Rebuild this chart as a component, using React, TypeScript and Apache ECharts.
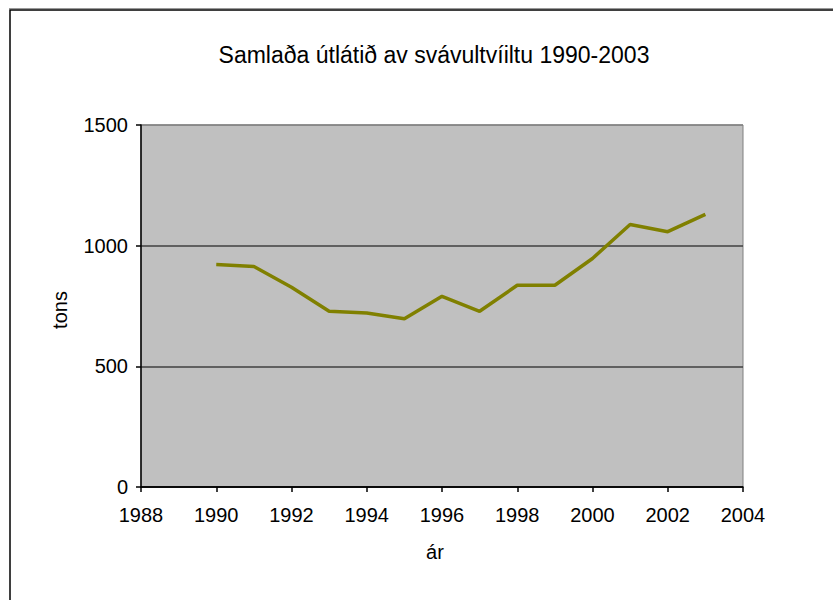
import React, { useEffect, useRef } from "react";
import * as echarts from "echarts";

const years = [1990, 1991, 1992, 1993, 1994, 1995, 1996, 1997, 1998, 1999, 2000, 2001, 2002, 2003];
const tons = [922, 914, 828, 728, 721, 697, 790, 728, 836, 836, 947, 1088, 1058, 1130];
const titleText = "Samlaða útlátið av svávultvíiltu 1990-2003";
const xName = "ár";
const yName = "tons";

const FONT = "'Liberation Sans', Arial, sans-serif";

export default function App() {
  const ref = useRef<HTMLDivElement>(null);
  useEffect(() => {
    if (!ref.current) return;
    const chart = echarts.init(ref.current, null, { renderer: "svg" });
    chart.setOption({
      animation: false,
      backgroundColor: "#ffffff",
      grid: {
        left: 141,
        top: 125,
        right: 90,
        bottom: 113,
        show: true,
        backgroundColor: "#C0C0C0",
        borderColor: "#808080",
        borderWidth: 1,
      },
      xAxis: {
        type: "value",
        min: 1988,
        max: 2004,
        interval: 2,
        axisLine: { show: true, onZero: false, lineStyle: { color: "#000000", width: 1.5 } },
        axisTick: { show: true, length: 5, lineStyle: { color: "#000000", width: 1.5 } },
        axisLabel: {
          color: "#000000",
          fontSize: 20,
          fontFamily: FONT,
          margin: 18,
          formatter: (v: number) => String(v),
        },
        splitLine: { show: false },
      },
      yAxis: {
        type: "value",
        min: 0,
        max: 1500,
        interval: 500,
        axisLine: { show: true, lineStyle: { color: "#000000", width: 1.5 } },
        axisTick: { show: true, length: 5, lineStyle: { color: "#000000", width: 1.5 } },
        axisLabel: {
          color: "#000000",
          fontSize: 20,
          fontFamily: FONT,
          margin: 13,
          formatter: (v: number) => String(v),
        },
        splitLine: {
          show: true,
          lineStyle: { color: ["#000000", "#404040", "#404040", "#808080"], width: 1.5 },
        },
      },
      graphic: [
        {
          type: "line",
          shape: { x1: 9, y1: 8.5, x2: 833, y2: 8.5 },
          style: { stroke: "#999999", lineWidth: 1 },
        },
        {
          type: "rect",
          shape: { x: 10, y: 10, width: 1000, height: 1000 },
          style: { stroke: "#000000", lineWidth: 1.5, fill: "none" },
        },
        {
          type: "text",
          x: 434,
          y: 55,
          style: {
            text: titleText,
            fontSize: 23,
            fontFamily: FONT,
            fill: "#000000",
            textAlign: "center",
            textVerticalAlign: "middle",
          },
        },
        {
          type: "text",
          x: 435,
          y: 552,
          style: {
            text: xName,
            fontSize: 20,
            fontFamily: FONT,
            fill: "#000000",
            textAlign: "center",
            textVerticalAlign: "middle",
          },
        },
        {
          type: "text",
          x: 60,
          y: 310,
          rotation: Math.PI / 2,
          style: {
            text: yName,
            fontSize: 20,
            fontFamily: FONT,
            fill: "#000000",
            textAlign: "center",
            textVerticalAlign: "middle",
          },
        },
      ],
      series: [
        {
          type: "line",
          data: years.map((y, i) => [y, tons[i]]),
          showSymbol: false,
          symbol: "none",
          lineStyle: { color: "#808000", width: 3.5 },
          itemStyle: { color: "#808000" },
        },
      ],
    });
    return () => chart.dispose();
  }, []);
  return (
    <div
      ref={ref}
      style={{ position: "absolute", left: 0, top: 0, width: 833, height: 600 }}
    />
  );
}
